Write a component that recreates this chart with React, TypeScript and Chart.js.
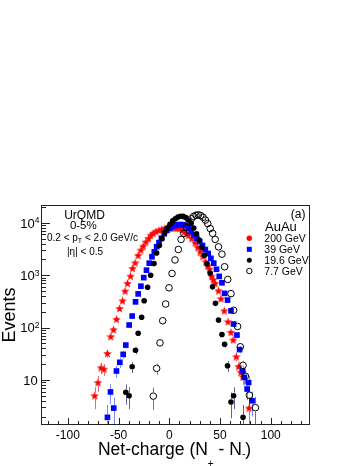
import React, { useEffect, useRef } from 'react';
import { Chart, registerables } from 'chart.js';

Chart.register(...registerables);

// ---------- data ----------
const netCharge200 = [-73.6, -70.3, -67.3, -64.4, -61.0, -57.7, -55.0, -52.0, -49.0, -46.1, -43.6, -41.2, -38.2, -36.2, -33.7, -30.7, -28.0, -25.7, -23.1, -20.4, -18.1, -15.8, -13.2, -10.2, -7.5, -5.0, -2.5, 0.0, 2.5, 5.0, 7.5, 10.3, 12.8, 15.0, 17.0, 18.8, 22.2, 25.4, 28.0, 30.4, 33.0, 36.0, 38.0, 39.6, 41.6, 43.3, 45.2, 48.5, 50.9, 54.2, 57.8, 60.8, 63.0, 66.0, 68.3, 70.5, 72.5, 78.6];
const events200 = [5.0, 8.9, 17, 16, 32, 67, 91, 144, 232, 324, 497, 697, 961, 1349, 1726, 2388, 3015, 3592, 4335, 5035, 5823, 6300, 6800, 7200, 7500, 7700, 7850, 7950, 8000, 8000, 7900, 7800, 7300, 6730, 6250, 5820, 5035, 4150, 3400, 2800, 2300, 1800, 1500, 1306, 961, 820, 697, 504, 355, 209, 129, 81, 58, 27.7, 18, 14, 11.5, 2.9];

const netCharge39 = [-61.0, -58.0, -54.8, -52.1, -48.8, -45.5, -42.9, -39.6, -36.6, -33.3, -30.7, -28.0, -25.2, -22.5, -19.8, -17.1, -14.8, -12.5, -10.2, -7.8, -5.0, -2.3, 0.4, 3.0, 5.6, 8.2, 10.8, 13.4, 16.0, 18.6, 21.5, 24.3, 27.1, 30.0, 32.7, 35.5, 38.3, 41.0, 43.8, 46.5, 49.2, 51.9, 54.5, 57.4, 60.8, 63.4, 66.7, 69.3, 72.3, 74.0, 76.7, 78.2, 81.6];
const events39 = [1.93, 5.9, 2.9, 14.8, 21.7, 30.8, 46.3, 112, 166, 310, 440, 617, 900, 1250, 1700, 2250, 2800, 3500, 4200, 5100, 6200, 7200, 7900, 8500, 8900, 9200, 9300, 9200, 8900, 8000, 6800, 5900, 5100, 4400, 3700, 3100, 2600, 2100, 1700, 1300, 950, 716, 450, 335, 209, 117, 72, 38, 14.8, 11.2, 6.7, 8.9, 4.0];

const netCharge19 = [-42.9, -39.6, -36.6, -33.3, -30.7, -27.3, -24.8, -21.4, -18.4, -15.1, -12.5, -9.8, -7.2, -4.6, -2.0, 0.7, 3.3, 5.9, 8.5, 11.1, 13.7, 16.3, 18.9, 21.5, 24.1, 26.8, 29.4, 32.0, 34.6, 37.2, 40.3, 42.6, 45.5, 48.5, 51.9, 54.5, 57.4, 60.8, 63.4, 72.7];
const events19 = [5.8, 5.0, 17.8, 37, 78, 157, 325, 590, 1000, 1670, 2650, 3700, 5000, 6500, 8000, 9440, 10900, 12000, 12900, 13400, 13300, 12600, 11300, 9800, 8000, 6200, 4700, 3400, 2400, 1650, 1100, 600, 290, 139, 74, 48, 18.6, 3.8, 5.0, 1.93];

const netCharge7 = [-15.8, -12.5, -9.2, -6.5, -3.6, -0.3, 2.7, 5.6, 8.9, 11.6, 14.3, 17.0, 19.5, 21.8, 24.0, 26.3, 28.6, 30.9, 33.2, 35.6, 37.9, 40.3, 42.7, 45.2, 48.5, 51.9, 54.5, 57.6, 60.8, 63.4, 67.3, 70.0, 72.7, 75.0, 78.9, 84.9];
const events7 = [4.9, 16.6, 51, 135, 282, 575, 1080, 1960, 3100, 4830, 6300, 8200, 10200, 12000, 13300, 14000, 14200, 13800, 12800, 11300, 9700, 7800, 6300, 4830, 3480, 2530, 1450, 830, 445, 214, 105, 43, 19, 11.8, 5.1, 2.95];

const legendHeader = 'AuAu';
const legendLabels = ['200 GeV', '39 GeV', '19.6 GeV', '7.7 GeV'];
const panelLabel = '(a)';
const infoModel = 'UrQMD';
const infoCentrality = '0-5%';
const infoPtParts = ['0.2 < p', 'T', ' < 2.0 GeV/c'];
const infoEta = '|η| < 0.5';
const yTitle = 'Events';
const xTitleParts = ['Net-charge (N', '+', ' - N', '-', ')'];

const xMajorTicks = [-100, -50, 0, 50, 100];
const xAllTicks = [-120, -110, -100, -90, -80, -70, -60, -50, -40, -30, -20, -10, 0, 10, 20, 30, 40, 50, 60, 70, 80, 90, 100, 110, 120, 130];
const yMajorTicks = [10, 100, 1000, 10000];
const yTickExponents = ['', '2', '3', '4'];
const yMinorTicks = [2, 3, 4, 5, 6, 7, 8, 9, 20, 30, 40, 50, 60, 70, 80, 90, 200, 300, 400, 500, 600, 700, 800, 900, 2000, 3000, 4000, 5000, 6000, 7000, 8000, 9000, 20000];

const FONT = '"Liberation Sans", Arial, Helvetica, sans-serif';

function toPoints(xs: number[], ys: number[]) {
  return xs.map((x, i) => ({ x, y: ys[i] }));
}

function makeStar(color: string, size: number) {
  const c = document.createElement('canvas');
  c.width = size;
  c.height = size;
  const g = c.getContext('2d')!;
  const cx = size / 2;
  const cy = size / 2 + 0.3;
  const R = size / 2;
  const r = R * 0.42;
  g.beginPath();
  for (let i = 0; i < 10; i++) {
    const ang = -Math.PI / 2 + (i * Math.PI) / 5;
    const rad = i % 2 === 0 ? R : r;
    g.lineTo(cx + rad * Math.cos(ang), cy + rad * Math.sin(ang));
  }
  g.closePath();
  g.fillStyle = color;
  g.fill();
  return c;
}

type Part = { text: string; size: number; dy: number };

function drawParts(ctx: CanvasRenderingContext2D, parts: Part[], x: number, baseline: number, align: 'left' | 'center') {
  let total = 0;
  const widths = parts.map((p) => {
    ctx.font = `${p.size}px ${FONT}`;
    const w = ctx.measureText(p.text).width;
    total += w;
    return w;
  });
  let cx = align === 'center' ? x - total / 2 : x;
  ctx.textAlign = 'left';
  ctx.textBaseline = 'alphabetic';
  parts.forEach((p, i) => {
    ctx.font = `${p.size}px ${FONT}`;
    ctx.fillText(p.text, cx, baseline + p.dy);
    cx += widths[i];
  });
}

const errorBarPlugin = {
  id: 'errorBars',
  beforeDatasetsDraw(chart: any) {
    const { ctx, chartArea: a, scales } = chart;
    const ys = scales.y;
    ctx.save();
    ctx.beginPath();
    ctx.rect(a.left, a.top, a.right - a.left, a.bottom - a.top);
    ctx.clip();
    chart.data.datasets.forEach((ds: any, i: number) => {
      const meta = chart.getDatasetMeta(i);
      ctx.strokeStyle = ds.errorColor;
      ctx.lineWidth = 1;
      meta.data.forEach((pt: any, j: number) => {
        const v = ds.data[j].y;
        const e = Math.sqrt(v);
        const px = Math.round(pt.x) + 0.5;
        const yTop = ys.getPixelForValue(v + e);
        const yBot = v - e > 0.01 ? ys.getPixelForValue(v - e) : a.bottom + 5;
        const gap = ds.errorGap;
        ctx.beginPath();
        if (yTop < pt.y - gap) {
          ctx.moveTo(px, yTop);
          ctx.lineTo(px, pt.y - gap);
        }
        if (yBot > pt.y + gap) {
          ctx.moveTo(px, pt.y + gap);
          ctx.lineTo(px, yBot);
        }
        ctx.stroke();
      });
    });
    ctx.restore();
  },
};

const decorPlugin = {
  id: 'rootDecor',
  afterDraw(chart: any) {
    const { ctx, chartArea: a, scales } = chart;
    const xs = scales.x;
    const ys = scales.y;
    ctx.save();
    ctx.fillStyle = '#000';
    // frame
    ctx.strokeStyle = '#222';
    ctx.lineWidth = 1;
    ctx.strokeRect(a.left - 0.5, a.top - 0.5, a.right - a.left + 1, a.bottom - a.top + 1);
    // x ticks (inward)
    ctx.beginPath();
    xAllTicks.forEach((v) => {
      const px = Math.round(xs.getPixelForValue(v)) + 0.5;
      const len = xMajorTicks.includes(v) ? 6 : 3;
      ctx.moveTo(px, a.bottom);
      ctx.lineTo(px, a.bottom - len);
    });
    // y ticks (inward)
    yMajorTicks.forEach((v) => {
      const py = Math.round(ys.getPixelForValue(v)) + 0.5;
      ctx.moveTo(a.left, py);
      ctx.lineTo(a.left + 8, py);
    });
    yMinorTicks.forEach((v) => {
      const py = Math.round(ys.getPixelForValue(v)) + 0.5;
      if (py < a.top || py > a.bottom) return;
      ctx.moveTo(a.left, py);
      ctx.lineTo(a.left + 4, py);
    });
    ctx.stroke();

    // y tick labels 10^n
    const mainSize = 13;
    const expSize = 8.5;
    yMajorTicks.forEach((v, i) => {
      const py = ys.getPixelForValue(v);
      const exp = yTickExponents[i];
      ctx.textAlign = 'left';
      ctx.textBaseline = 'alphabetic';
      ctx.font = `${expSize}px ${FONT}`;
      const we = exp ? ctx.measureText(exp).width : 0;
      ctx.font = `${mainSize}px ${FONT}`;
      const wm = ctx.measureText('10').width;
      const right = exp ? 39.5 : 37.8;
      const x0 = right - we - wm;
      ctx.fillText('10', x0, py + 0.36 * mainSize);
      if (exp) {
        ctx.font = `${expSize}px ${FONT}`;
        ctx.fillText(exp, right - we, py + 0.3);
      }
    });

    // y title
    ctx.save();
    ctx.translate(15, 315);
    ctx.rotate(-Math.PI / 2);
    ctx.font = `18px ${FONT}`;
    ctx.textAlign = 'center';
    ctx.textBaseline = 'alphabetic';
    ctx.fillText(yTitle, 0, 0);
    ctx.restore();

    // x title with subscripts
    drawParts(
      ctx,
      [
        { text: xTitleParts[0], size: 17.5, dy: 0 },
        { text: xTitleParts[1], size: 10, dy: 12 },
        { text: xTitleParts[2], size: 17.5, dy: 0 },
        { text: xTitleParts[3], size: 10, dy: 2 },
        { text: xTitleParts[4], size: 17.5, dy: 0 },
      ],
      174.5,
      455,
      'center'
    );

    // info text top-left
    ctx.textAlign = 'center';
    ctx.textBaseline = 'alphabetic';
    ctx.font = `12px ${FONT}`;
    ctx.fillText(infoModel, 84.5, 218.6);
    ctx.font = `11.5px ${FONT}`;
    ctx.fillText(infoCentrality, 83.3, 229.2);
    drawParts(
      ctx,
      [
        { text: infoPtParts[0], size: 10, dy: 0 },
        { text: infoPtParts[1], size: 7, dy: 2.5 },
        { text: infoPtParts[2], size: 10, dy: 0 },
      ],
      92.5,
      240.6,
      'center'
    );
    ctx.textAlign = 'center';
    ctx.font = `10px ${FONT}`;
    ctx.fillText(infoEta, 85, 255);

    // panel label
    ctx.textAlign = 'right';
    ctx.font = `12px ${FONT}`;
    ctx.fillText(panelLabel, 305.5, 218);

    // legend
    ctx.textAlign = 'left';
    ctx.font = `13px ${FONT}`;
    ctx.fillText(legendHeader, 265, 230.8);
    const ly = [238.3, 249.3, 260.3, 271];
    const mx = 249.3;
    // red circle
    ctx.fillStyle = '#ff0000';
    ctx.beginPath();
    ctx.arc(mx, ly[0], 2.7, 0, Math.PI * 2);
    ctx.fill();
    // blue square
    ctx.fillStyle = '#0000ff';
    ctx.fillRect(mx - 2.5, ly[1] - 2.5, 5, 5);
    // black circle
    ctx.fillStyle = '#000';
    ctx.beginPath();
    ctx.arc(mx, ly[2], 2.5, 0, Math.PI * 2);
    ctx.fill();
    // open circle
    ctx.strokeStyle = '#000';
    ctx.beginPath();
    ctx.arc(mx, ly[3], 2.7, 0, Math.PI * 2);
    ctx.stroke();
    ctx.fillStyle = '#000';
    ctx.font = `10.5px ${FONT}`;
    legendLabels.forEach((t, i) => {
      ctx.fillText(t, 264.3, ly[i] + 3.8);
    });
    ctx.restore();
  },
};

export default function App() {
  const ref = useRef<HTMLCanvasElement>(null);
  useEffect(() => {
    const canvas = ref.current!;
    const star = makeStar('#ff0000', 9);
    const chart = new Chart(canvas, {
      type: 'scatter',
      data: {
        datasets: [
          {
            label: legendLabels[0],
            data: toPoints(netCharge200, events200),
            pointStyle: star as any,
            pointRadius: 4,
            backgroundColor: '#ff0000',
            borderColor: '#ff0000',
            borderWidth: 0,
            order: 4,
            errorColor: 'rgba(235,50,50,0.75)',
            errorGap: 3,
          } as any,
          {
            label: legendLabels[1],
            data: toPoints(netCharge39, events39),
            pointStyle: 'rect',
            pointRadius: 4,
            backgroundColor: '#0000ff',
            borderColor: '#0000ff',
            borderWidth: 0,
            order: 3,
            errorColor: 'rgba(70,90,235,0.7)',
            errorGap: 3,
          } as any,
          {
            label: legendLabels[2],
            data: toPoints(netCharge19, events19),
            pointStyle: 'circle',
            pointRadius: 2.8,
            backgroundColor: '#000000',
            borderColor: '#000000',
            borderWidth: 0,
            order: 2,
            errorColor: 'rgba(40,40,120,0.75)',
            errorGap: 3,
          } as any,
          {
            label: legendLabels[3],
            data: toPoints(netCharge7, events7),
            pointStyle: 'circle',
            pointRadius: 3.3,
            backgroundColor: 'rgba(0,0,0,0)',
            borderColor: '#000000',
            borderWidth: 1,
            order: 1,
            errorColor: 'rgba(80,80,80,0.8)',
            errorGap: 4,
          } as any,
        ],
      },
      options: {
        responsive: false,
        animation: false,
        devicePixelRatio: 1,
        events: [],
        layout: { padding: { top: 206, right: 51, left: 0, bottom: 0 } },
        plugins: {
          legend: { display: false },
          tooltip: { enabled: false },
          title: { display: false },
        },
        scales: {
          x: {
            type: 'linear',
            min: -125.5,
            max: 137.7,
            afterBuildTicks: (s: any) => {
              s.ticks = xMajorTicks.map((v) => ({ value: v }));
            },
            afterFit: (s: any) => {
              s.height = 42;
            },
            ticks: {
              color: '#000',
              font: { family: FONT, size: 12 },
              padding: 4,
              maxRotation: 0,
              autoSkip: false,
            },
            grid: { display: false, drawTicks: false },
            border: { display: false },
          },
          y: {
            type: 'logarithmic',
            min: 1.44,
            max: 21000,
            afterFit: (s: any) => {
              s.width = 42;
            },
            ticks: { display: false },
            grid: { display: false, drawTicks: false },
            border: { display: false },
          },
        },
      },
      plugins: [errorBarPlugin, decorPlugin],
    } as any);
    return () => chart.destroy();
  }, []);
  return (
    <div style={{ position: 'absolute', left: 0, top: 0, width: 360, height: 466, background: '#fff' }}>
      <canvas ref={ref} width={360} height={466} style={{ display: 'block', width: 360, height: 466 }} />
    </div>
  );
}
